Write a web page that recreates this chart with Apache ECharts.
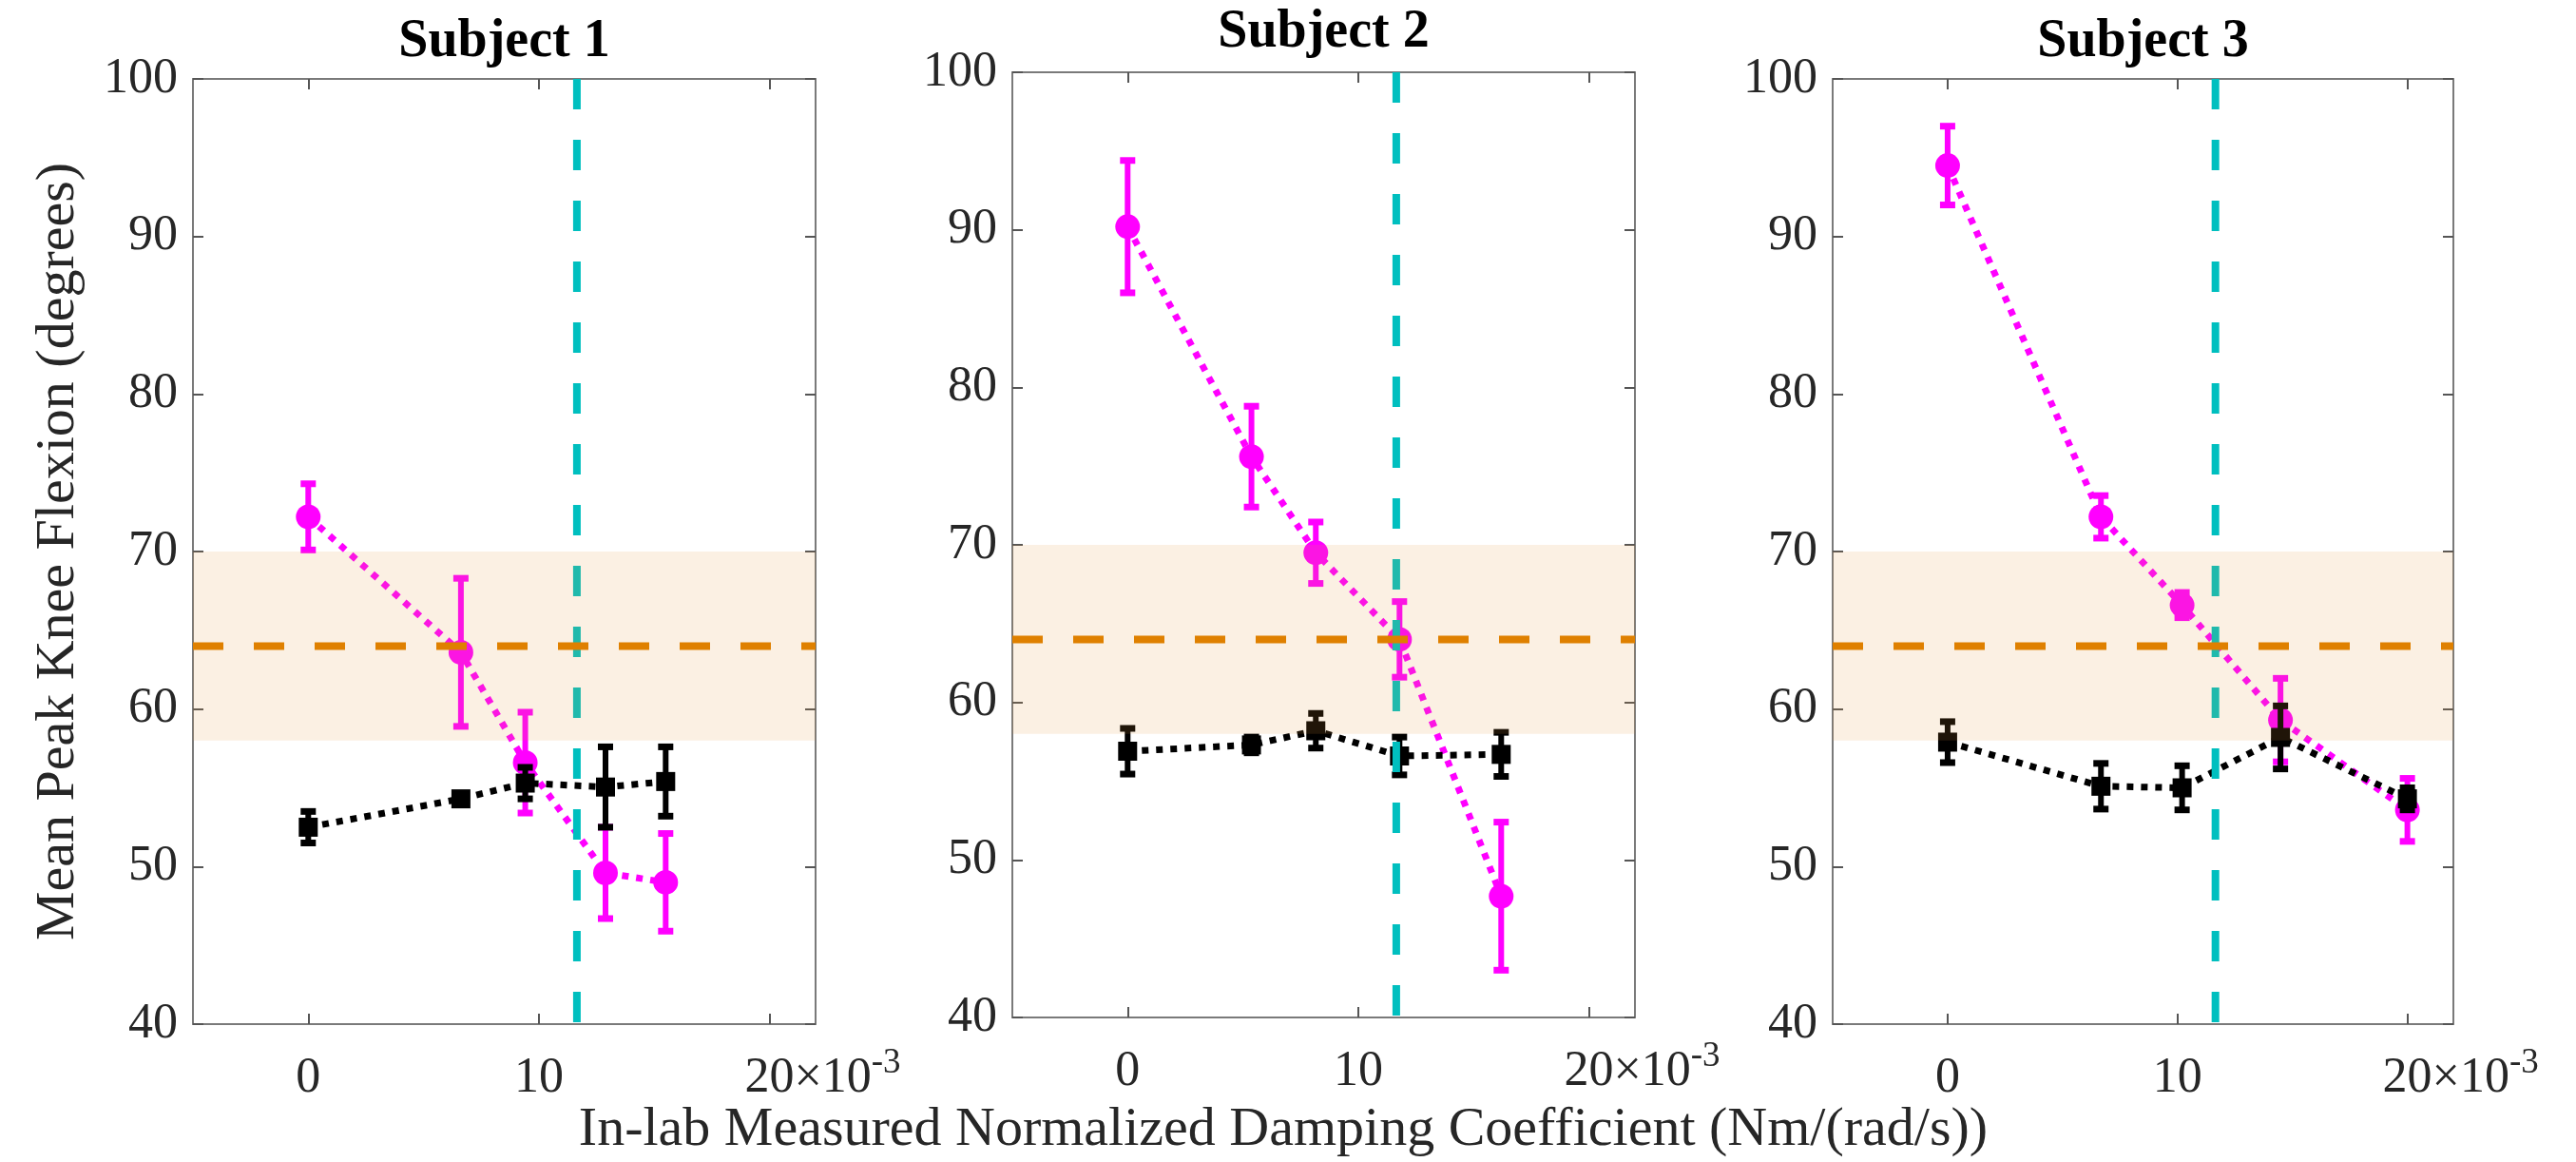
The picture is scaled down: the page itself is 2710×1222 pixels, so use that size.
<!DOCTYPE html>
<html lang="en">
<head>
    <meta charset="UTF-8">
    <title>Mean Peak Knee Flexion</title>
    <script src="https://cdn.jsdelivr.net/npm/echarts@6/dist/echarts.min.js"></script>
    <style>
        html, body { margin: 0; padding: 0; background: #fff; }
    </style>
</head>
<body>
<div id="chartBox" style="width: 2710px;height: 1222px;"></div>
</body>
<script>
  // subject names (one panel each)
  var subjects = ['Subject 1', 'Subject 2', 'Subject 3'];

  // measured damping coefficient, x10^-3 Nm/(rad/s)
  var damping1 = [0, 6.62, 9.41, 12.89, 15.5];
  var damping2 = [0, 5.37, 8.16, 11.79, 16.2];
  var damping3 = [0, 6.67, 10.2, 14.48, 20.0];

  // magenta series: mean and error
  var magMean1 = [72.2, 63.6, 56.6, 49.6, 49.0];
  var magErr1 = [2.1, 4.7, 3.2, 2.9, 3.1];
  var magMean2 = [90.2, 75.6, 69.5, 64.0, 47.7];
  var magErr2 = [4.2, 3.2, 1.95, 2.4, 4.7];
  var magMean3 = [94.5, 72.2, 66.6, 59.3, 53.6];
  var magErr3 = [2.5, 1.35, 0.8, 2.65, 2.0];

  // black series: mean and error
  var blkMean1 = [52.5, 54.3, 55.3, 55.05, 55.4];
  var blkErr1 = [1.0, 0.3, 1.0, 2.55, 2.2];
  var blkMean2 = [56.9, 57.3, 58.2, 56.6, 56.7];
  var blkErr2 = [1.45, 0.5, 1.1, 1.2, 1.4];
  var blkMean3 = [57.9, 55.1, 55.0, 58.2, 54.3];
  var blkErr3 = [1.3, 1.45, 1.4, 2.0, 0.7];

  // reference band, reference level and vertical reference
  var bandRange = [58, 70];
  var refLevel = 64;
  var refDamping = 11.65;

  // tick labels
  var xTicks = [0, 10, 20];
  var yTicks = [40, 50, 60, 70, 80, 90, 100];

  var dampings = [damping1, damping2, damping3];
  var magMeans = [magMean1, magMean2, magMean3];
  var magErrs = [magErr1, magErr2, magErr3];
  var blkMeans = [blkMean1, blkMean2, blkMean3];
  var blkErrs = [blkErr1, blkErr2, blkErr3];

  var grids = [
    {left: 203, top: 83, width: 655, height: 994},
    {left: 1065, top: 76, width: 655, height: 994},
    {left: 1928, top: 83, width: 653, height: 994}
  ];

  var FONT = "'Liberation Serif', 'Times New Roman', serif";
  var AXIS_COLOR = '#7a7a7a';
  var TEXT_COLOR = '#262626';

  function zip(xs, ys, es) {
    var out = [];
    for (var i = 0; i < xs.length; i++) {
      out.push(es ? [xs[i], ys[i], es[i]] : [xs[i], ys[i]]);
    }
    return out;
  }

  // error bar: vertical line with caps
  function renderErr(color) {
    return function (params, api) {
      var x = api.value(0), m = api.value(1), e = api.value(2);
      var hi = api.coord([x, m + e]);
      var lo = api.coord([x, m - e]);
      var cw = 8;
      var st = {stroke: color, lineWidth: 6};
      var capSt = {stroke: color, lineWidth: 7};
      return {
        type: 'group',
        children: [
          {type: 'line', shape: {x1: hi[0], y1: hi[1], x2: lo[0], y2: lo[1]}, style: st},
          {type: 'line', shape: {x1: hi[0] - cw, y1: hi[1], x2: hi[0] + cw, y2: hi[1]}, style: capSt},
          {type: 'line', shape: {x1: lo[0] - cw, y1: lo[1], x2: lo[0] + cw, y2: lo[1]}, style: capSt}
        ]
      };
    };
  }

  function xLabelFmt(v) {
    if (v === 20) return '{pad|}{a|20}{a|\u00d710}{sup|-3}';
    return '{a|' + v + '}';
  }

  var xAxes = [], yAxes = [], series = [], titles = [];

  for (var g = 0; g < 3; g++) {
    var tickStyle = {color: '#555', width: 2};
    var lineStyle = {color: AXIS_COLOR, width: 2};

    xAxes.push({
      gridIndex: g, type: 'value', min: -5, max: 22, position: 'bottom',
      axisLine: {show: true, onZero: false, lineStyle: lineStyle},
      axisTick: {show: true, inside: true, length: 11, customValues: xTicks, lineStyle: tickStyle},
      axisLabel: {
        customValues: xTicks, margin: 23, formatter: xLabelFmt,
        rich: {
          a: {fontFamily: FONT, fontSize: 52, color: TEXT_COLOR, lineHeight: 60, verticalAlign: 'bottom'},
          sup: {fontFamily: FONT, fontSize: 37, color: TEXT_COLOR, lineHeight: 37, verticalAlign: 'top'},
          pad: {width: 112, height: 10}
        }
      },
      splitLine: {show: false}
    });
    xAxes.push({
      gridIndex: g, type: 'value', min: -5, max: 22, position: 'top',
      axisLine: {show: true, onZero: false, lineStyle: lineStyle},
      axisTick: {show: true, inside: true, length: 11, customValues: xTicks, lineStyle: tickStyle},
      axisLabel: {show: false},
      splitLine: {show: false}
    });

    var yLeft = {
      gridIndex: g, type: 'value', min: 40, max: 100, interval: 10, position: 'left',
      axisLine: {show: true, onZero: false, lineStyle: lineStyle},
      axisTick: {show: true, inside: true, length: 11, lineStyle: tickStyle},
      axisLabel: {fontFamily: FONT, fontSize: 52, color: TEXT_COLOR, margin: 16},
      splitLine: {show: false}
    };
    if (g === 0) {
      yLeft.name = 'Mean Peak Knee Flexion (degrees)';
      yLeft.nameLocation = 'middle';
      yLeft.nameGap = 112;
      yLeft.nameRotate = 90;
      yLeft.nameTextStyle = {fontFamily: FONT, fontSize: 58, color: TEXT_COLOR};
    }
    yAxes.push(yLeft);
    yAxes.push({
      gridIndex: g, type: 'value', min: 40, max: 100, interval: 10, position: 'right',
      axisLine: {show: true, onZero: false, lineStyle: lineStyle},
      axisTick: {show: true, inside: true, length: 11, lineStyle: tickStyle},
      axisLabel: {show: false},
      splitLine: {show: false}
    });

    var xi = g * 2, yi = g * 2;

    // magenta error bars
    series.push({
      type: 'custom', xAxisIndex: xi, yAxisIndex: yi, z: 2,
      renderItem: renderErr('#ff00ff'),
      data: zip(dampings[g], magMeans[g], magErrs[g])
    });
    // magenta dotted line + circles
    series.push({
      type: 'line', xAxisIndex: xi, yAxisIndex: yi, z: 3,
      data: zip(dampings[g], magMeans[g]),
      symbol: 'circle', symbolSize: 26,
      itemStyle: {color: '#ff00ff'},
      lineStyle: {color: '#ff00ff', width: 7, type: [7, 8], cap: 'butt'}
    });
    // black error bars
    series.push({
      type: 'custom', xAxisIndex: xi, yAxisIndex: yi, z: 4,
      renderItem: renderErr('#000000'),
      data: zip(dampings[g], blkMeans[g], blkErrs[g])
    });
    // black dotted line + squares
    series.push({
      type: 'line', xAxisIndex: xi, yAxisIndex: yi, z: 5,
      data: zip(dampings[g], blkMeans[g]),
      symbol: 'rect', symbolSize: 20,
      itemStyle: {color: '#000000'},
      lineStyle: {color: '#000000', width: 7, type: [7, 8], cap: 'butt'}
    });
    // vertical cyan dashed reference
    series.push({
      type: 'custom', xAxisIndex: xi, yAxisIndex: yi, z: 6,
      data: [[refDamping, 70]],
      renderItem: function (params, api) {
        var cs = params.coordSys;
        var p = api.coord([api.value(0), api.value(1)]);
        return {
          type: 'line',
          shape: {x1: p[0], y1: cs.y, x2: p[0], y2: cs.y + cs.height},
          style: {stroke: '#00bfbf', lineWidth: 8, lineDash: [32, 32]}
        };
      }
    });
    // shaded band (semi transparent, on top)
    series.push({
      type: 'custom', xAxisIndex: xi, yAxisIndex: yi, z: 7,
      data: [[0, bandRange[0], bandRange[1]]],
      renderItem: function (params, api) {
        var cs = params.coordSys;
        var lo = api.coord([api.value(0), api.value(1)]);
        var hi = api.coord([api.value(0), api.value(2)]);
        return {
          type: 'rect',
          shape: {x: cs.x, y: hi[1], width: cs.width, height: lo[1] - hi[1]},
          style: {fill: 'rgba(230,150,60,0.14)'}
        };
      }
    });
    // orange dashed reference level
    series.push({
      type: 'custom', xAxisIndex: xi, yAxisIndex: yi, z: 8,
      data: [[0, refLevel]],
      renderItem: function (params, api) {
        var cs = params.coordSys;
        var p = api.coord([api.value(0), api.value(1)]);
        return {
          type: 'line',
          shape: {x1: cs.x, y1: p[1], x2: cs.x + cs.width, y2: p[1]},
          style: {stroke: '#df8000', lineWidth: 8, lineDash: [32, 32]}
        };
      }
    });

    titles.push({
      text: subjects[g],
      left: grids[g].left + grids[g].width / 2,
      top: g === 1 ? 7 : 17,
      textAlign: 'center',
      padding: 0,
      textStyle: {fontFamily: FONT, fontSize: 56, fontWeight: 'bold', color: '#000'}
    });
  }

  titles.push({
    text: 'In-lab Measured Normalized Damping Coefficient (Nm/(rad/s))',
    left: 1350, top: 1160, textAlign: 'center', padding: 0,
    textStyle: {fontFamily: FONT, fontSize: 58, fontWeight: 'normal', color: TEXT_COLOR}
  });

  var chart = echarts.init(document.getElementById('chartBox'));
  chart.setOption({
    animation: false,
    backgroundColor: '#ffffff',
    title: titles,
    grid: grids,
    xAxis: xAxes,
    yAxis: yAxes,
    series: series
  });
</script>
</html>
